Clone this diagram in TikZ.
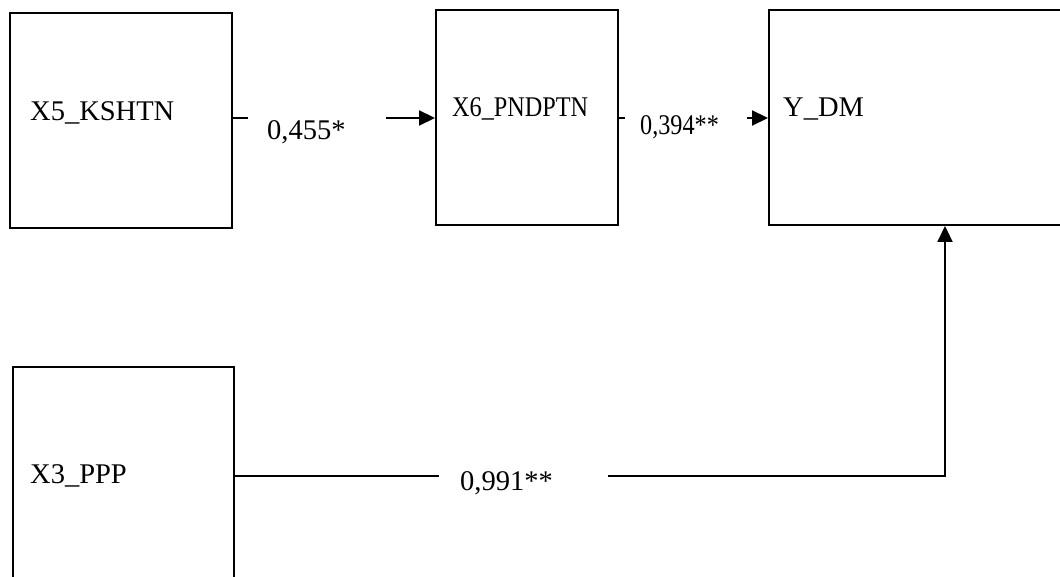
\documentclass[tikz,border=0pt]{standalone}
\usepackage{fontspec}
\setmainfont{Liberation Serif}
\usetikzlibrary{arrows.meta}
\begin{document}
\begin{tikzpicture}[x=1pt,y=-1pt,
  box/.style={draw,line width=2pt,inner sep=0pt,anchor=north west},
  lbl/.style={anchor=base west,inner sep=0pt,font=\fontsize{28.5}{30}\selectfont},
  narrow/.style={xscale=0.85},
  link/.style={line width=2.2pt},
  arr/.style={line width=2.2pt,-{Triangle[length=16pt,width=15pt]}}]
\useasboundingbox (0,0) rectangle (1060,577);
\clip (0,0) rectangle (1060,577);
% variable boxes
\node[box,minimum width=222pt,minimum height=215pt] (ksh) at (9,12) {};
\node[box,minimum width=182pt,minimum height=215pt] (pnd) at (435,9) {};
\node[box,minimum width=320pt,minimum height=215pt] (ydm) at (768,9) {};
\node[box,minimum width=221pt,minimum height=240pt] (ppp) at (12,366) {};
% variable names
\node[lbl] (tksh) at (30,121) {X5\_KSHTN};
\node[lbl,narrow] (tpnd) at (452,117) {X6\_PNDPTN};
\node[lbl] (tydm) at (783,117) {Y\_DM};
\node[lbl] (tppp) at (30,483) {X3\_PPP};
% path coefficients
\node[lbl] (c1) at (267,140) {0,455*};
\node[lbl,narrow] (c2) at (640,135) {0,394**};
\node[lbl] (c3) at (460,490) {0,991**};
% connector break points
\coordinate (a1) at (248,118);
\coordinate (a2) at (386,118);
\coordinate (b1) at (625,118);
\coordinate (b2) at (747,118);
\coordinate (d1) at (439,476);
\coordinate (d2) at (608,476);
\coordinate (d3) at (945,476);
% connectors
\draw[link] (ksh.east |- a1) -- (a1);
\draw[arr] (a2) -- (pnd.west |- a2);
\draw[link] (pnd.east |- b1) -- (b1);
\draw[arr] (b2) -- (ydm.west |- b2);
\draw[link] (ppp.east |- d1) -- (d1);
\draw[arr] (d2) -- (d3) -- (d3 |- ydm.south);
\end{tikzpicture}
\end{document}
